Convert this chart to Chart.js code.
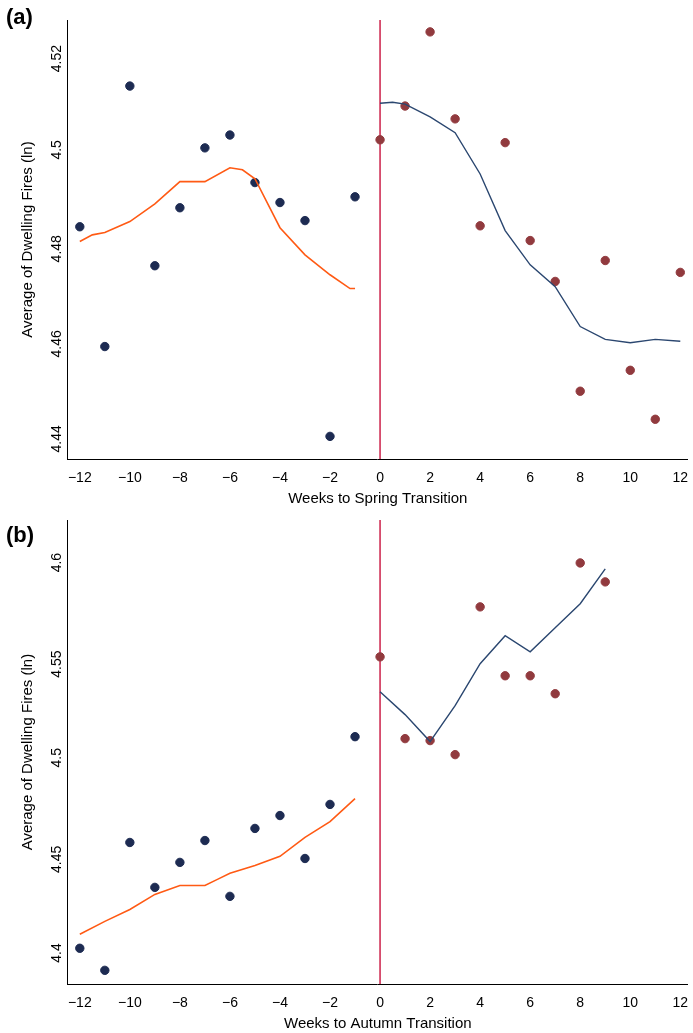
<!DOCTYPE html>
<html lang="en">
<head>
<meta charset="UTF-8">
<script src="https://cdn.jsdelivr.net/npm/chart.js"></script>
<style>
  body { margin: 0; background: #fff; font-family: "Liberation Sans", Arial, sans-serif; }
  .panel { position: absolute; left: 0; width: 693px; }
  .tag { position: absolute; left: 6px; font-weight: bold; font-size: 22px; }
</style>
</head>
<body>
<div class="panel" style="top:4px;height:504px;"><canvas id="chartA"></canvas></div>
<div class="tag" style="top:4px;">(a)</div>
<div class="panel" style="top:504px;height:529px;"><canvas id="chartB"></canvas></div>
<div class="tag" style="top:522px;">(b)</div>
<script>
// panel (a): spring
const weeksPre = [-12, -11, -10, -9, -8, -7, -6, -5, -4, -3, -2, -1];
const springPre = [4.4845, 4.4593, 4.5141, 4.4763, 4.4885, 4.5011, 4.5038, 4.4938, 4.4896, 4.4858, 4.4404, 4.4908];
const weeksPostA = [0, 1, 2, 3, 4, 5, 6, 7, 8, 9, 10, 11, 12];
const springPost = [4.5028, 4.5099, 4.5255, 4.5072, 4.4847, 4.5022, 4.4816, 4.473, 4.4499, 4.4774, 4.4543, 4.444, 4.4749];
const springFitPreX = [-12, -11.5, -11, -10, -9, -8, -7, -6, -5.5, -5, -4, -3, -2, -1.2, -1];
const springFitPreY = [4.4814, 4.4828, 4.4833, 4.4856, 4.4893, 4.494, 4.494, 4.4969, 4.4965, 4.4946, 4.4843, 4.4786, 4.4744, 4.4715, 4.4715];
const springFitPostX = [0, 0.5, 1, 2, 3, 4, 5, 6, 7, 8, 9, 10, 11, 12];
const springFitPostY = [4.5105, 4.5107, 4.5103, 4.5076, 4.5043, 4.4956, 4.4837, 4.4765, 4.4719, 4.4635, 4.4608, 4.4601, 4.4608, 4.4604];

// panel (b): autumn
const autumnPre = [4.4041, 4.3928, 4.4583, 4.4353, 4.4481, 4.4593, 4.4307, 4.4655, 4.4721, 4.4501, 4.4778, 4.5125];
const weeksPostB = [0, 1, 2, 3, 4, 5, 6, 7, 8, 9];
const autumnPost = [4.5534, 4.5115, 4.5105, 4.5033, 4.579, 4.5437, 4.5437, 4.5345, 4.6015, 4.5918];
const autumnFitPreX = [-12, -11, -10, -9, -8, -7, -6.5, -6, -5, -4, -3, -2, -1];
const autumnFitPreY = [4.4113, 4.4179, 4.424, 4.4317, 4.4363, 4.4363, 4.4394, 4.4425, 4.4465, 4.4512, 4.4609, 4.469, 4.4808];
const autumnFitPostX = [0, 1, 2, 3, 4, 5, 6, 7, 8, 9];
const autumnFitPostY = [4.5355, 4.5238, 4.51, 4.5284, 4.5499, 4.5642, 4.556, 4.5683, 4.5806, 4.5985];

const NAVY = '#1d2b52', LINE = '#2b4770', RED = '#913a3e', ORANGE = '#ff5a14', CUT = '#c8103c';
const pts = (xs, ys) => xs.map((x, i) => ({ x: x, y: ys[i] }));

function makeChart(id, o) {
  new Chart(document.getElementById(id), {
    type: 'scatter',
    data: { datasets: [
      { data: pts(o.fitPreX, o.fitPreY), showLine: true, borderColor: ORANGE, borderWidth: 1.6, pointRadius: 0 },
      { data: pts(o.fitPostX, o.fitPostY), showLine: true, borderColor: LINE, borderWidth: 1.4, pointRadius: 0 },
      { data: pts(weeksPre, o.pre), backgroundColor: NAVY, borderColor: NAVY, pointRadius: 4.2 },
      { data: pts(o.postX, o.post), backgroundColor: RED, borderColor: RED, pointRadius: 4.2 },
      { data: [{ x: 0, y: o.ymin }, { x: 0, y: o.ymax }], showLine: true, borderColor: CUT, borderWidth: 1.4, pointRadius: 0 }
    ] },
    options: {
      responsive: true, maintainAspectRatio: false, animation: false,
      layout: { padding: { top: 16, right: 3, left: 19 } },
      plugins: { legend: { display: false }, tooltip: { enabled: false } },
      scales: {
        x: { min: -12.48, max: 12.3, grid: { display: false, drawTicks: true }, border: { color: '#000' },
             ticks: { stepSize: 2, color: '#000', font: { size: 14 }, callback: v => (v < 0 ? '\u2212' + (-v) : v) },
             afterBuildTicks: a => { a.ticks = [-12,-10,-8,-6,-4,-2,0,2,4,6,8,10,12].map(v => ({ value: v })); },
             title: { display: true, text: o.xTitle, color: '#000', font: { size: 15 }, padding: 0 } },
        y: { min: o.ymin, max: o.ymax, grid: { display: false, drawTicks: true }, border: { color: '#000' },
             afterBuildTicks: a => { a.ticks = o.yticks.map(v => ({ value: v })); },
             ticks: { color: '#000', font: { size: 14 }, minRotation: 90, maxRotation: 90, labelOffset: -13,
                      callback: v => String(+v.toFixed(2)) },
             title: { display: true, text: 'Average of Dwelling Fires (ln)', color: '#000', font: { size: 15 }, padding: 0 } }
      }
    }
  });
}

makeChart('chartA', { pre: springPre, postX: weeksPostA, post: springPost,
  fitPreX: springFitPreX, fitPreY: springFitPreY, fitPostX: springFitPostX, fitPostY: springFitPostY,
  ymin: 4.4356, ymax: 4.528, yticks: [4.44, 4.46, 4.48, 4.5, 4.52], xTitle: 'Weeks to Spring Transition' });
makeChart('chartB', { pre: autumnPre, postX: weeksPostB, post: autumnPost,
  fitPreX: autumnFitPreX, fitPreY: autumnFitPreY, fitPostX: autumnFitPostX, fitPostY: autumnFitPostY,
  ymin: 4.3857, ymax: 4.6235, yticks: [4.4, 4.45, 4.5, 4.55, 4.6], xTitle: 'Weeks to Autumn Transition' });
</script>
</body>
</html>
